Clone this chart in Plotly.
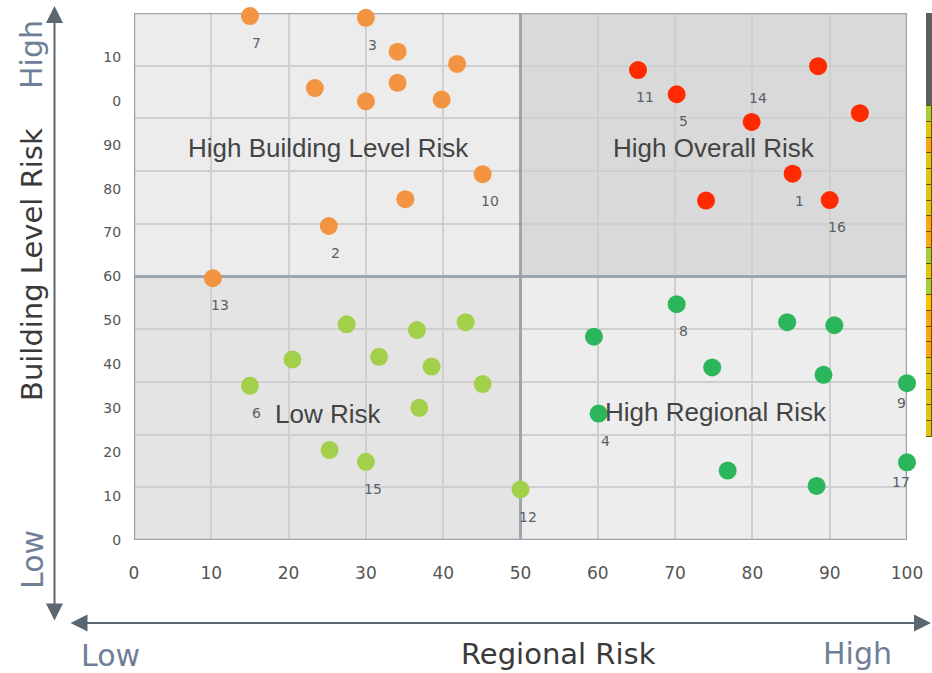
import plotly.graph_objects as go

# ---------------- data ----------------
orange_x = [15.0, 30.0, 34.1, 41.8, 23.4, 34.1, 30.0, 39.8, 45.1, 35.1, 25.2, 10.2]
orange_y = [119.3, 118.9, 111.2, 108.4, 102.9, 104.1, 99.9, 100.3, 83.3, 77.6, 71.5, 59.6]
orange_lbl = ["7", "3", "", "", "", "", "", "", "10", "", "2", "13"]

red_x = [65.2, 88.5, 70.2, 93.9, 79.9, 85.2, 90.0, 74.0]
red_y = [107.0, 107.9, 101.5, 97.2, 95.2, 83.4, 77.4, 77.3]
red_lbl = ["11", "", "5", "", "14", "1", "16", ""]

lime_x = [27.5, 36.6, 42.9, 20.5, 31.7, 38.5, 15.0, 45.1, 36.9, 25.3, 30.0, 50.0]
lime_y = [49.1, 47.8, 49.6, 41.1, 41.7, 39.5, 35.1, 35.5, 30.1, 20.5, 17.8, 11.5]
lime_lbl = ["", "", "", "", "", "", "6", "", "", "", "15", "12"]

green_x = [70.2, 84.5, 90.6, 59.5, 74.8, 89.2, 100.0, 60.1, 76.8, 88.3, 100.0]
green_y = [53.7, 49.6, 48.9, 46.3, 39.3, 37.6, 35.7, 28.8, 15.8, 12.3, 17.7]
green_lbl = ["8", "", "", "", "", "", "9", "4", "", "", "17"]

# label placement keyword per label (default "below")
label_place = {"14": "above", "9": "belowleft", "17": "belowleft"}

x_ticks = [0, 10, 20, 30, 40, 50, 60, 70, 80, 90, 100]
y_tickvals = [0, 10, 20, 30, 40, 50, 60, 70, 80, 90, 100, 110]
y_ticktext = ["0", "10", "20", "30", "40", "50", "60", "70", "80", "90", "0", "10"]

quadrants = [
    # x0, x1, y0, y1, fill, label
    (0, 50, 60, 120, "#ececec", "High Building Level Risk"),
    (50, 100, 60, 120, "#d9d9d9", "High Overall Risk"),
    (0, 50, 0, 60, "#e4e4e4", "Low Risk"),
    (50, 100, 0, 60, "#ededed", "High Regional Risk"),
]
quad_label_pos = [(25.1, 89.3), (75.0, 89.3), (25.1, 28.7), (75.3, 29.1)]

strip_header = 5.9
strip_colors = ["#a6cf3a", "#e2c412", "#fba415", "#e2c412", "#e2c412", "#e2c412",
                "#e2c412", "#fba415", "#fba415", "#a6cf3a", "#e2c412", "#a6cf3a",
                "#ffc000", "#fba415", "#fba415", "#fba415", "#e2c412", "#e2c412",
                "#e2c412", "#e2c412", "#e2c412"]

# ---------------- layout helpers ----------------
W, H = 932, 673
ML, MR, MT, MB = 134, 0, 13, 133
PW, PH = W - ML - MR, H - MT - MB
PLOT_RIGHT = 907
STRIP_LEFT = 926


def xp(px):
    return (px - ML) / PW


def yp(py):
    return (H - MB - py) / PH


fig = go.Figure()

series = [
    (orange_x, orange_y, orange_lbl, "#f39442"),
    (red_x, red_y, red_lbl, "#ff2a00"),
    (lime_x, lime_y, lime_lbl, "#a3d04b"),
    (green_x, green_y, green_lbl, "#2cb65c"),
]

num_font = "DejaVu Sans"
annotations = []
offsets = {"below": (7, -27), "above": (6, 24), "belowleft": (-6, -20)}
for xs, ys, lbls, col in series:
    fig.add_trace(go.Scatter(
        x=xs, y=ys, mode="markers", cliponaxis=False,
        marker=dict(size=18, color=col, line=dict(width=0)),
        hoverinfo="skip", xaxis="x", yaxis="y"))
    for x, y, t in zip(xs, ys, lbls):
        if not t:
            continue
        dx, dy = offsets[label_place.get(t, "below")]
        annotations.append(dict(
            x=x, y=y, xref="x", yref="y", text=t, showarrow=False,
            xshift=dx, yshift=dy,
            font=dict(family=num_font, size=14, color="#5a5f66")))

# colour strip on the right edge
bases = [0] + [strip_header + i for i in range(len(strip_colors))]
heights = [strip_header] + [1] * len(strip_colors)
colors = ["#5e5e5e"] + strip_colors
line_cols = ["#5e5e5e"] + ["#6b5200"] * len(strip_colors)
fig.add_trace(go.Bar(
    x=["s"] * len(colors), y=heights, base=bases,
    marker=dict(color=colors, line=dict(color=line_cols, width=1)),
    xaxis="x2", yaxis="y2", hoverinfo="skip", width=1))

shapes = []
for x0, x1, y0, y1, fill, _ in quadrants:
    shapes.append(dict(type="rect", xref="x", yref="y", x0=x0, x1=x1, y0=y0, y1=y1,
                       fillcolor=fill, line=dict(width=0), layer="below"))
for x0, x1, y0, y1, fill, _ in quadrants:
    shapes.append(dict(type="rect", xref="x", yref="y", x0=x0, x1=x1, y0=y0, y1=y1,
                       fillcolor="rgba(0,0,0,0)", line=dict(color="#9ba4ac", width=2.5),
                       layer="between"))

for (x0, x1, y0, y1, fill, lab), (lx, ly) in zip(quadrants, quad_label_pos):
    annotations.append(dict(x=lx, y=ly, xref="x", yref="y", text=lab, showarrow=False,
                            font=dict(family="Liberation Sans", size=26, color="#444444")))

slate = "#6f7f98"
dark = "#3a3a3a"
side_font = "DejaVu Sans"


def side_text(sx, sy, text, color, size, angle=0):
    return dict(x=xp(sx), y=yp(sy), xref="paper", yref="paper", text=text,
                showarrow=False, textangle=angle, xanchor="center", yanchor="middle",
                font=dict(family=side_font, size=size, color=color))


annotations += [
    side_text(31, 55, "High", slate, 30, -90),
    side_text(32, 265, "Building Level Risk", dark, 29, -90),
    side_text(32, 560, "Low", slate, 30, -90),
    side_text(110, 655, "Low", slate, 30),
    side_text(558, 654, "Regional Risk", dark, 29),
    side_text(857, 653, "High", slate, 30),
]
arrow_col = "#5b6770"
# vertical double arrow
annotations.append(dict(x=xp(54.5), y=yp(6), xref="paper", yref="paper", text="",
                        showarrow=True, ax=0, ay=616, arrowside="end+start",
                        arrowhead=2, arrowsize=1.7, arrowwidth=2, arrowcolor=arrow_col))
# horizontal double arrow
annotations.append(dict(x=xp(931), y=yp(623), xref="paper", yref="paper", text="",
                        showarrow=True, ax=-862, ay=0, arrowside="end+start",
                        arrowhead=2, arrowsize=1.7, arrowwidth=2, arrowcolor=arrow_col))

fig.update_layout(
    width=W, height=H, autosize=False,
    margin=dict(l=ML, r=MR, t=MT, b=MB, autoexpand=False),
    plot_bgcolor="white", paper_bgcolor="white", showlegend=False,
    barmode="overlay", bargap=0, hovermode=False,
    shapes=shapes, annotations=annotations,
    xaxis=dict(domain=[0, xp(PLOT_RIGHT)], range=[0, 100], tickvals=x_ticks,
               automargin=False,
               showgrid=True, gridcolor="#cfcfcf", gridwidth=1.5, zeroline=False,
               showline=False, ticks="outside", ticklen=18, tickcolor="rgba(0,0,0,0)",
               tickfont=dict(family=num_font, size=17, color="#555555")),
    yaxis=dict(range=[0, 120], tickmode="array", tickvals=y_tickvals, ticktext=y_ticktext,
               automargin=False,
               showgrid=False, zeroline=False, showline=False,
               ticks="outside", ticklen=9, tickcolor="rgba(0,0,0,0)",
               tickfont=dict(family=num_font, size=14, color="#555555"),
               minor=dict(tickmode="array", tickvals=list(range(12, 120, 12)),
                          showgrid=True, gridcolor="#cfcfcf", gridwidth=1.5, ticks="")),
    xaxis2=dict(domain=[xp(STRIP_LEFT), 1], range=[-0.5, 0.5], visible=False,
                anchor="y2", automargin=False),
    yaxis2=dict(domain=[yp(437), 1], range=[strip_header + len(strip_colors), 0],
                visible=False, anchor="x2", automargin=False),
)

fig.write_html(
    "out.html",
    config={"responsive": False, "displayModeBar": False},
    post_script="document.body.style.margin='0';document.body.style.overflow='hidden';",
)
